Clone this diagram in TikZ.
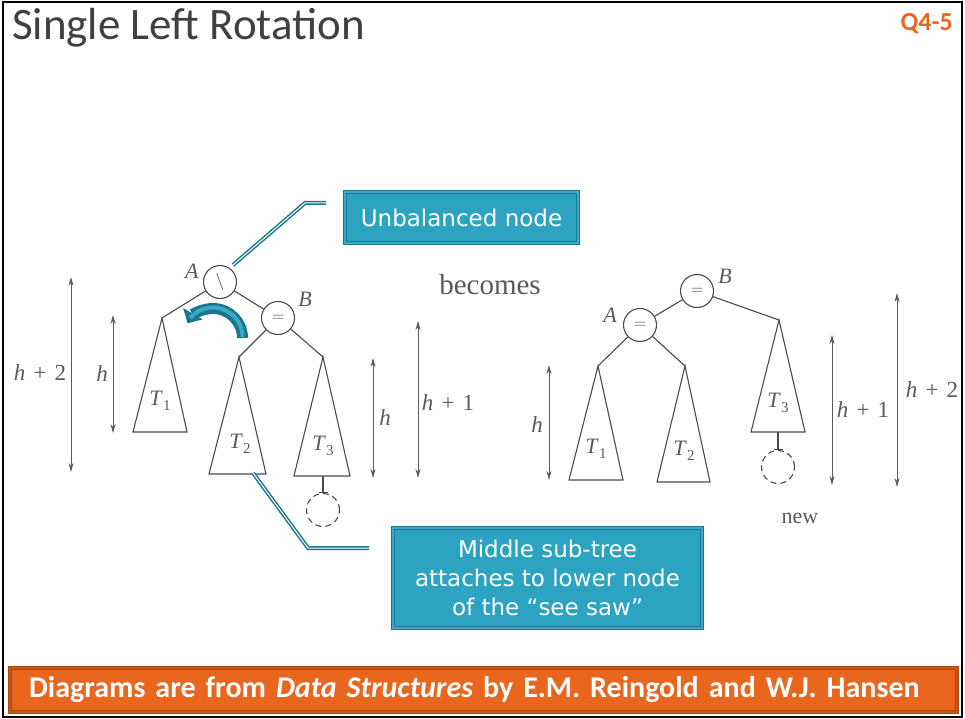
\documentclass[tikz,border=0pt]{standalone}
\usepackage{fontspec}
\setmainfont{Liberation Serif}
\newfontfamily\slidefont{Carlito}
\newfontfamily\calloutfont{DejaVu Sans}
\usetikzlibrary{arrows.meta,positioning}

\definecolor{treegray}{HTML}{4A4A4A}
\definecolor{labelgray}{HTML}{5A5A5A}
\definecolor{calloutfill}{HTML}{2DA3C2}
\definecolor{calloutedge}{HTML}{1D7690}
\definecolor{calloutring}{HTML}{3AAAC6}
\definecolor{turnlight}{HTML}{3AA9C5}
\definecolor{bannerfill}{HTML}{E8661E}
\definecolor{banneredge}{HTML}{A8470F}
\definecolor{titlegray}{HTML}{404040}

\newcommand{\subT}[1]{\textit{T}\raisebox{-0.45ex}{\fontsize{15}{15}\selectfont #1}}
\newcommand{\hsum}[1]{\textit{h}\hspace{0.35em}+\hspace{0.35em}#1}

\begin{document}
\begin{tikzpicture}[x=1pt,y=-1pt,>={Stealth[length=9pt,width=5pt]}]

  \tikzstyle{vertex}=[circle,draw=treegray,line width=1.1pt,minimum size=33pt,inner sep=0pt,text=treegray,font=\fontsize{18}{18}\selectfont]
  \tikzstyle{newleaf}=[circle,draw=treegray,line width=1.1pt,dashed,dash pattern=on 6pt off 4pt,minimum size=33pt,inner sep=0pt]
  \tikzstyle{tree}=[draw=treegray,line width=1.1pt]
  \tikzstyle{harrow}=[draw=labelgray,line width=0.9pt,<->]
  \tikzstyle{texto}=[text=labelgray,font=\fontsize{22}{22}\selectfont]
  \tikzstyle{hlabel}=[text=labelgray,font=\fontsize{23}{23}\selectfont]
  \tikzstyle{callout}=[draw=calloutedge,line width=1.1pt,double=calloutring,double distance=1.5pt,fill=calloutfill,text=white,font=\calloutfont\fontsize{23}{29}\selectfont,align=center]
  \tikzstyle{leader}=[draw=calloutedge,line width=1.5pt,double=white,double distance=1pt]
  \tikzstyle{banner}=[draw=banneredge,line width=1.1pt,double=bannerfill!85!black,double distance=1.5pt,fill=bannerfill,text=white,font=\slidefont\bfseries\fontsize{30}{30}\selectfont]

  \useasboundingbox (0,0) rectangle (965,719);
  \draw[line width=2pt] (3,2) rectangle (962,717);

  % heading
  \node[anchor=base west,inner sep=0pt,text=titlegray,font=\slidefont\fontsize{45}{45}\selectfont] (title) at (12,40) {Single Left Rotation};
  \node[anchor=base east,inner sep=0pt,text=bannerfill,font=\slidefont\bfseries\fontsize{26}{26}\selectfont] (qnum) at (953,31) {Q4-5};

  \begin{scope}
    % tree before the rotation
    \node [vertex] (lA) at (220,282) {$\backslash$};
    \node [vertex] (lB) at (278,318) {$=$};
    \node [newleaf] (lnew) at (323,510) {};

    \coordinate (lT1) at (162,318);
    \coordinate (lT1l) at (133,432);
    \coordinate (lT1r) at (187,432);
    \coordinate (lT2) at (239,357);
    \coordinate (lT2l) at (209,474);
    \coordinate (lT2r) at (266,474);
    \coordinate (lT3) at (323,357);
    \coordinate (lT3l) at (294,476);
    \coordinate (lT3r) at (350,476);
    \coordinate (lT3b) at (323,476);

    \draw [tree] (lA) -- (lT1);
    \draw [tree] (lA) -- (lB);
    \draw [tree] (lB) -- (lT2);
    \draw [tree] (lB) -- (lT3);
    \draw [tree] (lT1) -- (lT1l) -- (lT1r) -- cycle;
    \draw [tree] (lT2) -- (lT2l) -- (lT2r) -- cycle;
    \draw [tree] (lT3) -- (lT3l) -- (lT3r) -- cycle;
    \draw [tree,-{Bar[width=9pt]}] (lT3b) -- (lnew.north);

    \node [texto] (lAname) at (192,271) {\textit{A}};
    \node [texto] (lBname) at (305,299) {\textit{B}};
    \node [texto] (lT1name) at (160,401) {\subT{1}};
    \node [texto] (lT2name) at (240,444) {\subT{2}};
    \node [texto] (lT3name) at (323,446) {\subT{3}};

    \coordinate (lh2a) at (71,277);  \coordinate (lh2b) at (71,472);
    \coordinate (lh0a) at (113,315); \coordinate (lh0b) at (113,433);
    \coordinate (lh3a) at (373,358); \coordinate (lh3b) at (373,478);
    \coordinate (lh1a) at (418,321); \coordinate (lh1b) at (418,478);
    \draw [harrow] (lh2a) -- (lh2b);
    \draw [harrow] (lh0a) -- (lh0b);
    \draw [harrow] (lh3a) -- (lh3b);
    \draw [harrow] (lh1a) -- (lh1b);
    \node [hlabel] (lh2text) at (40,373) {\hsum{2}};
    \node [hlabel] (lh0text) at (102,374) {\textit{h}};
    \node [hlabel] (lh3text) at (385,418) {\textit{h}};
    \node [hlabel] (lh1text) at (448,403) {\hsum{1}};

    % see-saw turn
    \draw [calloutedge,line width=11pt,-{Triangle[width=22pt,length=11pt]}] (242.5,338) arc (0:-150:29.5);
    \draw [turnlight,line width=4pt] (242.5,337) arc (0:-140:29.5);
  \end{scope}

  \node [text=labelgray,font=\fontsize{29}{29}\selectfont] (becomes) at (490,285) {becomes};

  \begin{scope}
    % tree after the rotation
    \node [vertex] (rB) at (697,291) {$=$};
    \node [vertex] (rA) at (640,325) {$=$};
    \node [newleaf] (rnew) at (778,467) {};

    \coordinate (rT1) at (598,366);
    \coordinate (rT1l) at (569,480);
    \coordinate (rT1r) at (623,480);
    \coordinate (rT2) at (685,366);
    \coordinate (rT2l) at (657,482);
    \coordinate (rT2r) at (710,482);
    \coordinate (rT3) at (779,320);
    \coordinate (rT3l) at (751,432);
    \coordinate (rT3r) at (805,432);
    \coordinate (rT3b) at (778,432);

    \draw [tree] (rB) -- (rA);
    \draw [tree] (rB) -- (rT3);
    \draw [tree] (rA) -- (rT1);
    \draw [tree] (rA) -- (rT2);
    \draw [tree] (rT1) -- (rT1l) -- (rT1r) -- cycle;
    \draw [tree] (rT2) -- (rT2l) -- (rT2r) -- cycle;
    \draw [tree] (rT3) -- (rT3l) -- (rT3r) -- cycle;
    \draw [tree,-{Bar[width=9pt]}] (rT3b) -- (rnew.north);

    \node [texto] (rAname) at (610,315) {\textit{A}};
    \node [texto] (rBname) at (725,276) {\textit{B}};
    \node [texto] (rT1name) at (596,449) {\subT{1}};
    \node [texto] (rT2name) at (684,451) {\subT{2}};
    \node [texto] (rT3name) at (778,403) {\subT{3}};
    \node [texto] (newname) at (800,518) {new};

    \coordinate (rh0a) at (549,365); \coordinate (rh0b) at (549,480);
    \coordinate (rh1a) at (832,335); \coordinate (rh1b) at (832,485);
    \coordinate (rh2a) at (897,293); \coordinate (rh2b) at (897,487);
    \draw [harrow] (rh0a) -- (rh0b);
    \draw [harrow] (rh1a) -- (rh1b);
    \draw [harrow] (rh2a) -- (rh2b);
    \node [hlabel] (rh0text) at (537,425) {\textit{h}};
    \node [hlabel] (rh1text) at (863,410) {\hsum{1}};
    \node [hlabel] (rh2text) at (932,390) {\hsum{2}};
  \end{scope}

  % call-outs
  \node [callout,minimum width=233pt,minimum height=51pt] (unbal) at (461.5,217.5) {Unbalanced node};
  \node [callout,minimum width=309pt,minimum height=100pt] (middle) at (547.5,578) {Middle sub-tree\\attaches to lower node\\of the “see saw”};

  \coordinate (ustart) at (233,265);
  \coordinate (uknee) at (305,203);
  \coordinate (uend) at (326,203);
  \draw [leader] (ustart) -- (uknee) -- (uend);

  \coordinate (mstart) at (253,473);
  \coordinate (mknee) at (308,548);
  \coordinate (mend) at (369,548);
  \draw [leader] (mstart) -- (mknee) -- (mend);

  % credit line
  \node [banner,minimum width=947pt,minimum height=44pt,text width=909pt,inner xsep=19pt,align=left] (credit) at (483.5,690) {Diagrams are from \textit{Data Structures} by E.M. Reingold and W.J. Hansen};

\end{tikzpicture}
\end{document}
